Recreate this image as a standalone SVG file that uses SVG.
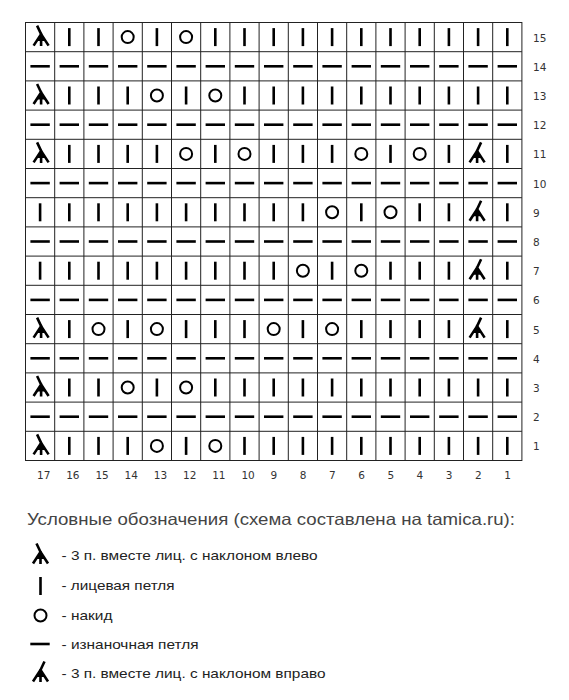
<svg xmlns="http://www.w3.org/2000/svg" width="569" height="700" viewBox="0 0 569 700">
<style>
.grid{stroke:#222;stroke-width:1;fill:none}
.s{stroke:#000;stroke-width:2.6;fill:none}
.sl{stroke:#000;stroke-width:2.6;fill:none;stroke-linecap:butt;stroke-linejoin:miter}
.o{stroke:#000;stroke-width:2;fill:none}
.num{font-family:"DejaVu Sans",sans-serif;font-size:10.5px;fill:#333}
.title{font-family:"Liberation Sans",Arial,sans-serif;font-size:16.5px;fill:#444}
.leg{font-family:"Liberation Sans",Arial,sans-serif;font-size:13.5px;fill:#222}
</style>
<defs>
<line id="K" class="s" x1="0" y1="-9" x2="0" y2="9"/>
<line id="P" class="s" x1="-9.7" y1="0" x2="9.7" y2="0"/>
<circle id="O" class="o" cx="0" cy="0" r="6"/>
<g id="L"><path class="sl" d="M-3,-11.5 L1,-3 M1,-4 L1,9 M1,-3 L-6.5,8.5 M1,-3 L8.5,8.5"/><path d="M1,-5 L-3.5,4 L5.5,4 Z" fill="#000"/></g>
<g id="R"><path class="sl" d="M3,-11.5 L-1,-3 M-1,-4 L-1,9 M-1,-3 L6.5,8.5 M-1,-3 L-8.5,8.5"/><path d="M-1,-5 L3.5,4 L-5.5,4 Z" fill="#000"/></g>
<g id="PR">
<use href="#P" x="40.1"/><use href="#P" x="69.3"/><use href="#P" x="98.5"/><use href="#P" x="127.7"/><use href="#P" x="156.9"/><use href="#P" x="186.1"/><use href="#P" x="215.3"/><use href="#P" x="244.5"/><use href="#P" x="273.7"/><use href="#P" x="302.9"/><use href="#P" x="332.1"/><use href="#P" x="361.3"/><use href="#P" x="390.5"/><use href="#P" x="419.7"/><use href="#P" x="448.9"/><use href="#P" x="478.1"/><use href="#P" x="507.3"/>
</g>
</defs>
<rect width="569" height="700" fill="#fff"/>
<g id="grid" class="grid">
<rect x="25.5" y="22.5" width="496.4" height="438"/>
<path d="M54.7,22.5V460.5M83.9,22.5V460.5M113.1,22.5V460.5M142.3,22.5V460.5M171.5,22.5V460.5M200.7,22.5V460.5M229.9,22.5V460.5M259.1,22.5V460.5M288.3,22.5V460.5M317.5,22.5V460.5M346.7,22.5V460.5M375.9,22.5V460.5M405.1,22.5V460.5M434.3,22.5V460.5M463.5,22.5V460.5M492.7,22.5V460.5"/>
<path d="M25.5,51.7H521.9M25.5,80.9H521.9M25.5,110.1H521.9M25.5,139.3H521.9M25.5,168.5H521.9M25.5,197.7H521.9M25.5,226.9H521.9M25.5,256.1H521.9M25.5,285.3H521.9M25.5,314.5H521.9M25.5,343.7H521.9M25.5,372.9H521.9M25.5,402.1H521.9M25.5,431.3H521.9"/>
</g>
<g id="row15" transform="translate(0,37.1)">
<use href="#L" x="40.1"/><use href="#K" x="69.3"/><use href="#K" x="98.5"/><use href="#O" x="127.7"/><use href="#K" x="156.9"/><use href="#O" x="186.1"/><use href="#K" x="215.3"/><use href="#K" x="244.5"/><use href="#K" x="273.7"/><use href="#K" x="302.9"/><use href="#K" x="332.1"/><use href="#K" x="361.3"/><use href="#K" x="390.5"/><use href="#K" x="419.7"/><use href="#K" x="448.9"/><use href="#K" x="478.1"/><use href="#K" x="507.3"/>
</g>
<g id="row14" transform="translate(0,66.3)"><use href="#PR"/></g>
<g id="row13" transform="translate(0,95.5)">
<use href="#L" x="40.1"/><use href="#K" x="69.3"/><use href="#K" x="98.5"/><use href="#K" x="127.7"/><use href="#O" x="156.9"/><use href="#K" x="186.1"/><use href="#O" x="215.3"/><use href="#K" x="244.5"/><use href="#K" x="273.7"/><use href="#K" x="302.9"/><use href="#K" x="332.1"/><use href="#K" x="361.3"/><use href="#K" x="390.5"/><use href="#K" x="419.7"/><use href="#K" x="448.9"/><use href="#K" x="478.1"/><use href="#K" x="507.3"/>
</g>
<g id="row12" transform="translate(0,124.7)"><use href="#PR"/></g>
<g id="row11" transform="translate(0,153.9)">
<use href="#L" x="40.1"/><use href="#K" x="69.3"/><use href="#K" x="98.5"/><use href="#K" x="127.7"/><use href="#K" x="156.9"/><use href="#O" x="186.1"/><use href="#K" x="215.3"/><use href="#O" x="244.5"/><use href="#K" x="273.7"/><use href="#K" x="302.9"/><use href="#K" x="332.1"/><use href="#O" x="361.3"/><use href="#K" x="390.5"/><use href="#O" x="419.7"/><use href="#K" x="448.9"/><use href="#R" x="478.1"/><use href="#K" x="507.3"/>
</g>
<g id="row10" transform="translate(0,183.1)"><use href="#PR"/></g>
<g id="row9" transform="translate(0,212.3)">
<use href="#K" x="40.1"/><use href="#K" x="69.3"/><use href="#K" x="98.5"/><use href="#K" x="127.7"/><use href="#K" x="156.9"/><use href="#K" x="186.1"/><use href="#K" x="215.3"/><use href="#K" x="244.5"/><use href="#K" x="273.7"/><use href="#K" x="302.9"/><use href="#O" x="332.1"/><use href="#K" x="361.3"/><use href="#O" x="390.5"/><use href="#K" x="419.7"/><use href="#K" x="448.9"/><use href="#R" x="478.1"/><use href="#K" x="507.3"/>
</g>
<g id="row8" transform="translate(0,241.5)"><use href="#PR"/></g>
<g id="row7" transform="translate(0,270.7)">
<use href="#K" x="40.1"/><use href="#K" x="69.3"/><use href="#K" x="98.5"/><use href="#K" x="127.7"/><use href="#K" x="156.9"/><use href="#K" x="186.1"/><use href="#K" x="215.3"/><use href="#K" x="244.5"/><use href="#K" x="273.7"/><use href="#O" x="302.9"/><use href="#K" x="332.1"/><use href="#O" x="361.3"/><use href="#K" x="390.5"/><use href="#K" x="419.7"/><use href="#K" x="448.9"/><use href="#R" x="478.1"/><use href="#K" x="507.3"/>
</g>
<g id="row6" transform="translate(0,299.9)"><use href="#PR"/></g>
<g id="row5" transform="translate(0,329.1)">
<use href="#L" x="40.1"/><use href="#K" x="69.3"/><use href="#O" x="98.5"/><use href="#K" x="127.7"/><use href="#O" x="156.9"/><use href="#K" x="186.1"/><use href="#K" x="215.3"/><use href="#K" x="244.5"/><use href="#O" x="273.7"/><use href="#K" x="302.9"/><use href="#O" x="332.1"/><use href="#K" x="361.3"/><use href="#K" x="390.5"/><use href="#K" x="419.7"/><use href="#K" x="448.9"/><use href="#R" x="478.1"/><use href="#K" x="507.3"/>
</g>
<g id="row4" transform="translate(0,358.3)"><use href="#PR"/></g>
<g id="row3" transform="translate(0,387.5)">
<use href="#L" x="40.1"/><use href="#K" x="69.3"/><use href="#K" x="98.5"/><use href="#O" x="127.7"/><use href="#K" x="156.9"/><use href="#O" x="186.1"/><use href="#K" x="215.3"/><use href="#K" x="244.5"/><use href="#K" x="273.7"/><use href="#K" x="302.9"/><use href="#K" x="332.1"/><use href="#K" x="361.3"/><use href="#K" x="390.5"/><use href="#K" x="419.7"/><use href="#K" x="448.9"/><use href="#K" x="478.1"/><use href="#K" x="507.3"/>
</g>
<g id="row2" transform="translate(0,416.7)"><use href="#PR"/></g>
<g id="row1" transform="translate(0,445.9)">
<use href="#L" x="40.1"/><use href="#K" x="69.3"/><use href="#K" x="98.5"/><use href="#K" x="127.7"/><use href="#O" x="156.9"/><use href="#K" x="186.1"/><use href="#O" x="215.3"/><use href="#K" x="244.5"/><use href="#K" x="273.7"/><use href="#K" x="302.9"/><use href="#K" x="332.1"/><use href="#K" x="361.3"/><use href="#K" x="390.5"/><use href="#K" x="419.7"/><use href="#K" x="448.9"/><use href="#K" x="478.1"/><use href="#K" x="507.3"/>
</g>
<g id="row-labels" class="num">
<text x="533" y="41.6">15</text><text x="533" y="70.8">14</text><text x="533" y="100">13</text><text x="533" y="129.2">12</text><text x="533" y="158.4">11</text><text x="533" y="187.6">10</text><text x="533" y="216.8">9</text><text x="533" y="246">8</text><text x="533" y="275.2">7</text><text x="533" y="304.4">6</text><text x="533" y="333.6">5</text><text x="533" y="362.8">4</text><text x="533" y="392">3</text><text x="533" y="421.2">2</text><text x="533" y="450.4">1</text>
</g>
<g id="col-labels" class="num">
<text x="37" y="478.5">17</text><text x="66.2" y="478.5">16</text><text x="95.4" y="478.5">15</text><text x="124.6" y="478.5">14</text><text x="153.8" y="478.5">13</text><text x="183" y="478.5">12</text><text x="212.2" y="478.5">11</text><text x="241.4" y="478.5">10</text><text x="270.6" y="478.5">9</text><text x="299.8" y="478.5">8</text><text x="329" y="478.5">7</text><text x="358.2" y="478.5">6</text><text x="387.4" y="478.5">5</text><text x="416.6" y="478.5">4</text><text x="445.8" y="478.5">3</text><text x="475" y="478.5">2</text><text x="504.2" y="478.5">1</text>
</g>
<g id="legend">
<text class="title" x="27" y="524.5" textLength="488" lengthAdjust="spacingAndGlyphs">Условные обозначения (схема составлена на tamica.ru):</text>
<use href="#L" x="39.5" y="555"/>
<text class="leg" x="61.5" y="559.5" textLength="256" lengthAdjust="spacingAndGlyphs">- 3 п. вместе лиц. с наклоном влево</text>
<use href="#K" x="40.5" y="586"/>
<text class="leg" x="61.5" y="590.3" textLength="113" lengthAdjust="spacingAndGlyphs">- лицевая петля</text>
<use href="#O" x="40.5" y="615.5"/>
<text class="leg" x="61.5" y="620" textLength="51" lengthAdjust="spacingAndGlyphs">- накид</text>
<use href="#P" x="40" y="644"/>
<text class="leg" x="61.5" y="648.5" textLength="137" lengthAdjust="spacingAndGlyphs">- изнаночная петля</text>
<use href="#R" x="41.5" y="673"/>
<text class="leg" x="61.5" y="677.5" textLength="264" lengthAdjust="spacingAndGlyphs">- 3 п. вместе лиц. с наклоном вправо</text>
</g>
</svg>
